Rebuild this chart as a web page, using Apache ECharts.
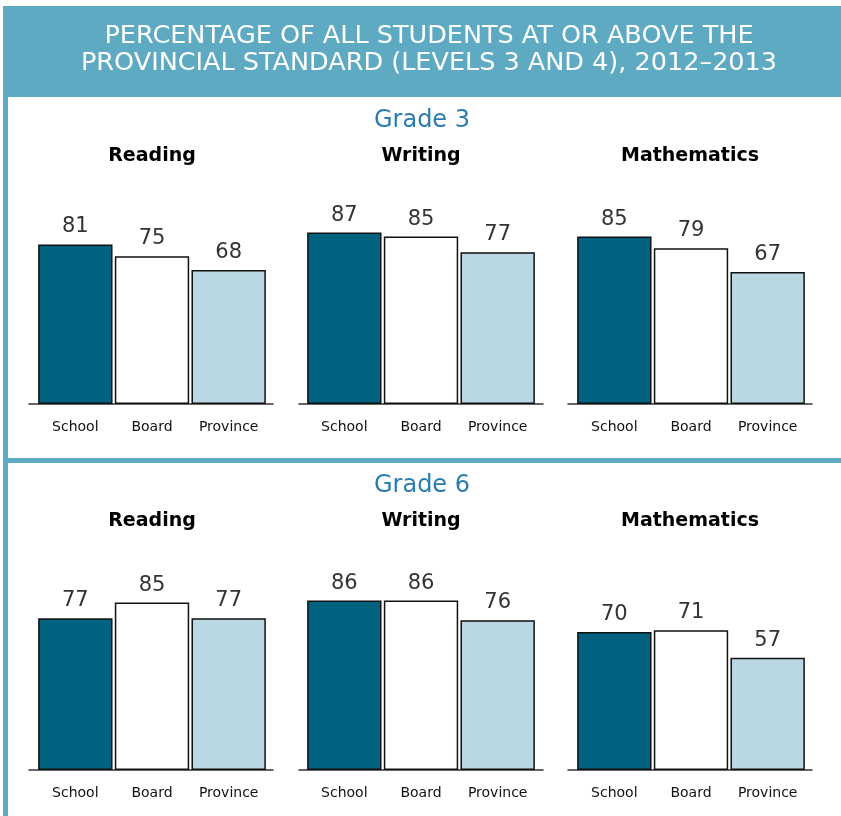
<!DOCTYPE html>
<html>
<head>
<meta charset="utf-8">
<style>
  html, body { margin: 0; padding: 0; background: #ffffff; }
  #chart { width: 841px; height: 816px; }
</style>
<script src="https://cdn.jsdelivr.net/npm/echarts@6/dist/echarts.min.js"></script>
</head>
<body>
<div id="chart"></div>
<script>
// ---- Data ----
const chartTitle = 'PERCENTAGE OF ALL STUDENTS AT OR ABOVE THE\nPROVINCIAL STANDARD (LEVELS 3 AND 4), 2012–2013';
const grades = ['Grade 3', 'Grade 6'];
const subjects = ['Reading', 'Writing', 'Mathematics'];
const categories = ['School', 'Board', 'Province'];
const grade3Reading = [81, 75, 68];
const grade3Writing = [87, 85, 77];
const grade3Math = [85, 79, 67];
const grade6Reading = [77, 85, 77];
const grade6Writing = [86, 86, 76];
const grade6Math = [70, 71, 57];
const valuesByGrade = [
  [grade3Reading, grade3Writing, grade3Math],
  [grade6Reading, grade6Writing, grade6Math]
];

// ---- Styles / layout ----
const barColors = ['#03627f', '#ffffff', '#bad8e3'];
const headerColor = '#5eaac2';
const FONT = '"DejaVu Sans", Verdana, sans-serif';
const barLeft = [37, 306, 576];
const barWidthPx = 230;
const axisLeft = [29, 299, 568];
const axisWidthPx = 244;
const plotTop = [207, 573];
const plotHeight = 197;
const subjectCenters = [152, 421, 690];
const subjectTitleTop = [147, 512];
const gradeTitleTop = [109, 474];

const grid = [], xAxis = [], yAxis = [], series = [];
const title = [{
  text: chartTitle,
  left: 429, top: 23, textAlign: 'center', padding: 0,
  textStyle: { color: '#ffffff', fontSize: 25.5, fontWeight: 'normal', lineHeight: 27, fontFamily: FONT }
}];

grades.forEach((g, gi) => {
  title.push({
    text: g, left: 422, top: gradeTitleTop[gi], textAlign: 'center', padding: 0,
    textStyle: { color: '#2b7db0', fontSize: 24, fontWeight: 'normal', fontFamily: FONT }
  });
  subjects.forEach((s, si) => {
    title.push({
      text: s, left: subjectCenters[si], top: subjectTitleTop[gi], textAlign: 'center', padding: 0,
      textStyle: { color: '#000000', fontSize: 19, fontWeight: 'bold', fontFamily: FONT }
    });
    // bar grid
    const gIdx = grid.length;
    grid.push({ left: barLeft[si], top: plotTop[gi], width: barWidthPx, height: plotHeight, containLabel: false });
    xAxis.push({
      type: 'category', gridIndex: gIdx, data: categories,
      axisLine: { show: false }, axisTick: { show: false },
      axisLabel: { interval: 0, margin: 16, fontSize: 14, color: '#111', fontFamily: FONT }
    });
    yAxis.push({ type: 'value', gridIndex: gIdx, min: 0, max: 100, show: false });
    series.push({
      type: 'bar', xAxisIndex: gIdx, yAxisIndex: gIdx,
      barCategoryGap: '3%',
      data: valuesByGrade[gi][si].map((v, i) => ({
        value: v,
        itemStyle: { color: barColors[i], borderColor: '#111', borderWidth: 1.5 }
      })),
      label: { show: true, position: 'top', distance: 7, fontSize: 21, color: '#333', fontFamily: FONT },
      silent: true, animation: false
    });
    // baseline grid (axis line wider than bars)
    const aIdx = grid.length;
    grid.push({ left: axisLeft[si], top: plotTop[gi], width: axisWidthPx, height: plotHeight });
    xAxis.push({
      type: 'category', gridIndex: aIdx, data: [''],
      axisLine: { show: true, lineStyle: { color: '#333', width: 1.5 } },
      axisTick: { show: false }, axisLabel: { show: false }
    });
    yAxis.push({ type: 'value', gridIndex: aIdx, min: 0, max: 100, show: false });
  });
});

const chart = echarts.init(document.getElementById('chart'), null, { renderer: 'canvas' });
chart.setOption({
  backgroundColor: '#ffffff',
  animation: false,
  title: title,
  grid: grid,
  xAxis: xAxis,
  yAxis: yAxis,
  series: series,
  graphic: [
    { type: 'rect', shape: { x: 3, y: 6, width: 838, height: 91 }, style: { fill: headerColor }, z: -10 },
    { type: 'rect', shape: { x: 3, y: 97, width: 5, height: 719 }, style: { fill: headerColor }, z: -10 },
    { type: 'rect', shape: { x: 3, y: 458, width: 838, height: 5 }, style: { fill: headerColor }, z: -10 }
  ]
});
</script>
</body>
</html>
